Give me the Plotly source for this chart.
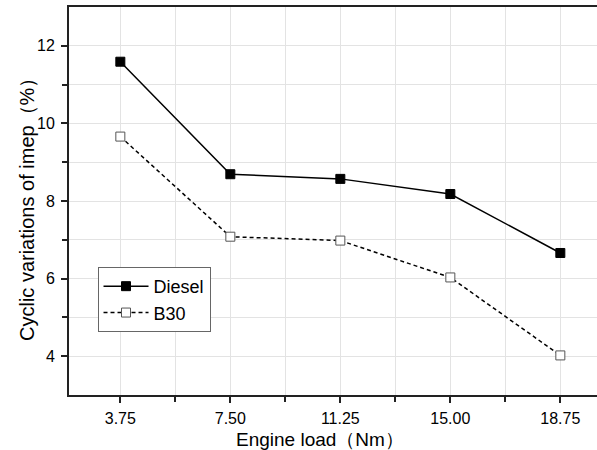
import plotly.graph_objects as go

loads = [3.75, 7.50, 11.25, 15.00, 18.75]
diesel = [11.59, 8.69, 8.57, 8.18, 6.66]
b30 = [9.66, 7.08, 6.98, 6.03, 4.02]
x_ticks = [3.75, 7.50, 11.25, 15.00, 18.75]
y_ticks = [4, 6, 8, 10, 12]

FONT = "Liberation Sans, Arial, sans-serif"

fig = go.Figure()
fig.add_trace(go.Scatter(
    x=loads, y=diesel, name="Diesel", mode="lines+markers",
    line=dict(color="black", width=1.5),
    marker=dict(symbol="square", size=9, color="black", line=dict(color="black", width=1)),
))
fig.add_trace(go.Scatter(
    x=loads, y=b30, name="B30", mode="lines+markers",
    line=dict(color="black", width=1.5, dash="4px,3px"),
    marker=dict(symbol="square", size=9, color="white", line=dict(color="#555555", width=1)),
))

fig.update_layout(
    width=597, height=450,
    margin=dict(l=69, r=0, t=7, b=55),
    plot_bgcolor="white", paper_bgcolor="white",
    font=dict(family=FONT, color="black", size=16),
    showlegend=True,
    legend=dict(x=0.054, y=0.33, xanchor="left", yanchor="top",
                bordercolor="#666666", borderwidth=1, bgcolor="white",
                font=dict(size=18), tracegroupgap=0, itemwidth=45),
    xaxis=dict(
        range=[2, 20], tickvals=x_ticks, ticktext=[f"{v:.2f}" for v in x_ticks],
        ticks="outside", ticklen=6, tickwidth=1.5, tickcolor="#222",
        showline=True, linecolor="#222", linewidth=2, mirror=True,
        showgrid=True, gridcolor="#e3e3e3", gridwidth=1,
        minor=dict(tickvals=[5.625, 9.375, 13.125, 16.875], ticks="outside", ticklen=5,
                   tickcolor="#222", showgrid=True, gridcolor="#e3e3e3"),
        zeroline=False, tickfont=dict(size=16), ticklabelstandoff=2,
    ),
    yaxis=dict(
        range=[3, 13], tickvals=y_ticks,
        ticks="outside", ticklen=6, tickwidth=1.5, tickcolor="#222",
        showline=True, linecolor="#222", linewidth=2,
        showgrid=True, gridcolor="#e3e3e3", gridwidth=1,
        minor=dict(tickvals=[5, 7, 9, 11], ticks="outside", ticklen=5,
                   tickcolor="#222", showgrid=True, gridcolor="#e3e3e3"),
        zeroline=False, tickfont=dict(size=16), ticklabelstandoff=3,
    ),
    annotations=[
        dict(text="Engine load（Nm）", showarrow=False, font=dict(size=19)),
        dict(text="Cyclic variations of imep（%）", showarrow=False,
             textangle=-90, font=dict(size=20)),
    ],
)
pw = 597 - 69 - 0
ph = 450 - 7 - 55
fig.layout.annotations[0].update(x=(320 - 69) / pw, y=(450 - 55 - 439) / ph,
                                 xref="paper", yref="paper",
                                 xanchor="center", yanchor="middle")
fig.layout.annotations[1].update(x=(27 - 69) / pw, y=(450 - 55 - 205) / ph,
                                 xref="paper", yref="paper",
                                 xanchor="center", yanchor="middle")

fig.write_html("out.html")
